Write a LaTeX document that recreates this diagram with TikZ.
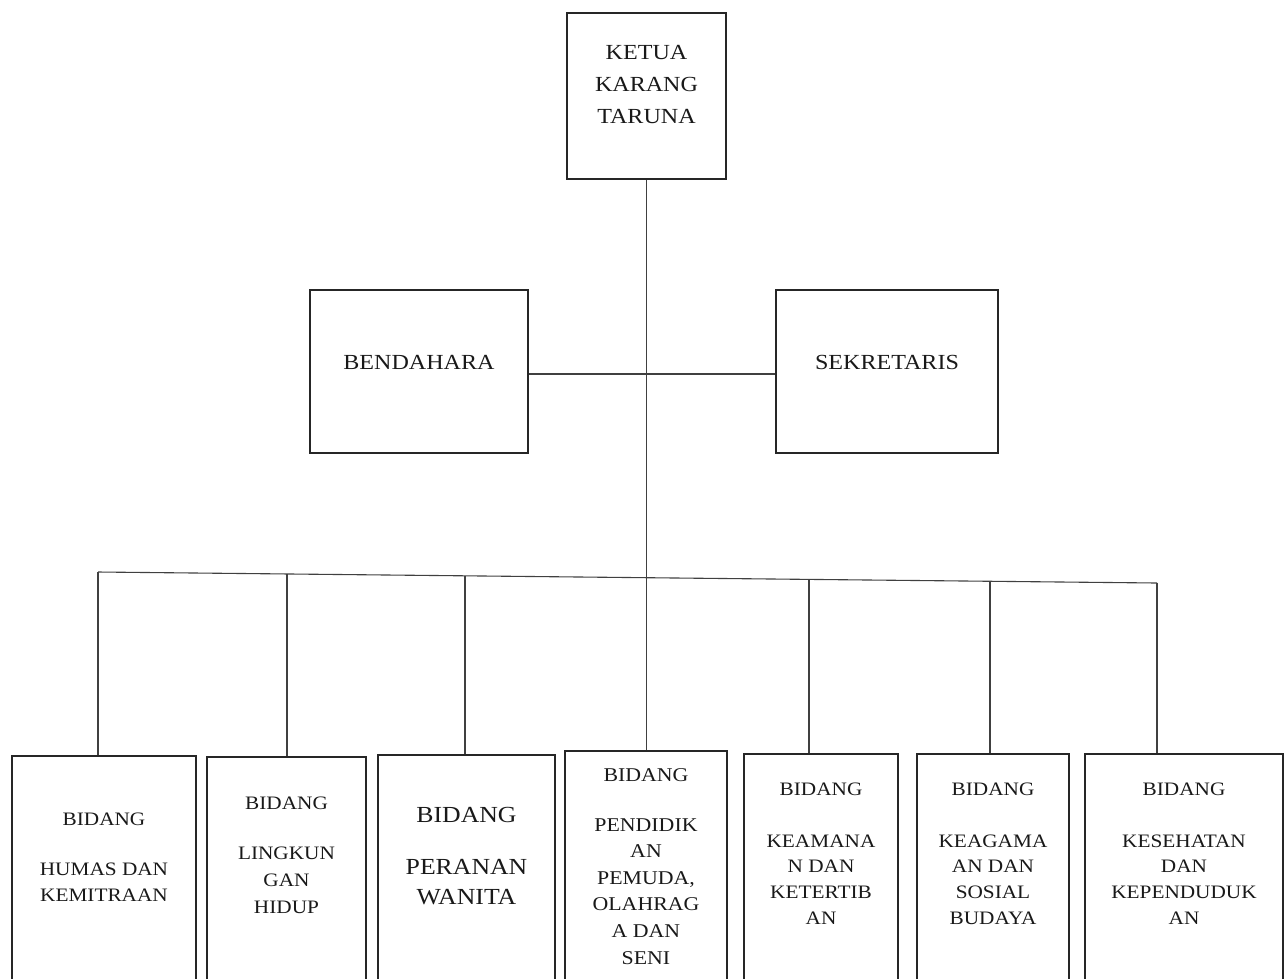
\documentclass[tikz,border=0pt]{standalone}
\usepackage{fontspec}
\setmainfont{Liberation Serif}[FakeStretch=1.12]
\begin{document}
\begin{tikzpicture}[x=1pt,y=-1pt,
  box/.style={draw=black!85, line width=2.4pt, inner sep=0pt, fill=none},
  conn/.style={draw=black!75, line width=1.1pt},
  txt/.style={align=center, inner sep=0pt, text=black!90},
  sm/.style={font=\fontsize{19}{26}\selectfont},
  md/.style={font=\fontsize{21.5}{32}\selectfont}]
\useasboundingbox (0,0) rectangle (1287,978);
\clip (0,0) rectangle (1287,978);
% top boxes
\node[box, minimum width=159pt, minimum height=166pt] (ketua) at (646.5,96) {};
\node[txt, md] (tketua) at (646.5,85) {KETUA\\KARANG\\TARUNA};
\node[box, minimum width=218pt, minimum height=163pt] (bend) at (419,371.5) {};
\node[txt, md] (tbend) at (419,362) {BENDAHARA};
\node[box, minimum width=222pt, minimum height=163pt] (sek) at (887,371.5) {};
\node[txt, md] (tsek) at (887,362) {SEKRETARIS};
% bottom boxes
\node[box, anchor=north, minimum width=184pt, minimum height=260pt] (b1) at (104,755) {};
\node[box, anchor=north, minimum width=159pt, minimum height=260pt] (b2) at (286.5,756) {};
\node[box, anchor=north, minimum width=177pt, minimum height=260pt] (b3) at (466.5,754) {};
\node[box, anchor=north, minimum width=162pt, minimum height=260pt] (b4) at (646,750) {};
\node[box, anchor=north, minimum width=154pt, minimum height=260pt] (b5) at (821,753) {};
\node[box, anchor=north, minimum width=152pt, minimum height=260pt] (b6) at (993,753) {};
\node[box, anchor=north, minimum width=198pt, minimum height=260pt] (b7) at (1184,753) {};
% texts
\node[txt, sm] (t1) at (104,857.5) {BIDANG\\[24pt]HUMAS DAN\\KEMITRAAN};
\node[txt, font=\fontsize{19}{27}\selectfont] (t2) at (286.5,855.5) {BIDANG\\[23pt]LINGKUN\\GAN\\HIDUP};
\node[txt, font=\fontsize{23}{30}\selectfont] (t3) at (466.5,856) {BIDANG\\[22pt]PERANAN\\WANITA};
\node[txt, font=\fontsize{19.5}{26.6}\selectfont] (t4) at (646,866.5) {BIDANG\\[23pt]PENDIDIK\\AN\\PEMUDA,\\OLAHRAG\\A DAN\\SENI};
\node[txt, font=\fontsize{19}{25.7}\selectfont] (t5) at (821,853.5) {BIDANG\\[26pt]KEAMANA\\N DAN\\KETERTIB\\AN};
\node[txt, font=\fontsize{19}{25.7}\selectfont] (t6) at (993,853.5) {BIDANG\\[26pt]KEAGAMA\\AN DAN\\SOSIAL\\BUDAYA};
\node[txt, font=\fontsize{19}{25.7}\selectfont] (t7) at (1184,853.5) {BIDANG\\[26pt]KESEHATAN\\DAN\\KEPENDUDUK\\AN};
% connectors
\draw[conn, line width=0.9pt] (ketua.south) -- (ketua.south |- b4.north);
\draw[conn] (bend.east |- 0,374) coordinate (bl) -- (sek.west |- bl);
\coordinate (d1) at (98,572);
\coordinate (d2) at (287,574);
\coordinate (d3) at (465,575.8);
\coordinate (d5) at (809,579.4);
\coordinate (d6) at (990,581.3);
\coordinate (d7) at (1157,583);
\draw[conn] (d1) -- (d7);
\draw[conn] (d1) -- (d1 |- b1.north);
\draw[conn] (d2) -- (d2 |- b2.north);
\draw[conn] (d3) -- (d3 |- b3.north);
\draw[conn] (d5) -- (d5 |- b5.north);
\draw[conn] (d6) -- (d6 |- b6.north);
\draw[conn] (d7) -- (d7 |- b7.north);
\end{tikzpicture}
\end{document}
